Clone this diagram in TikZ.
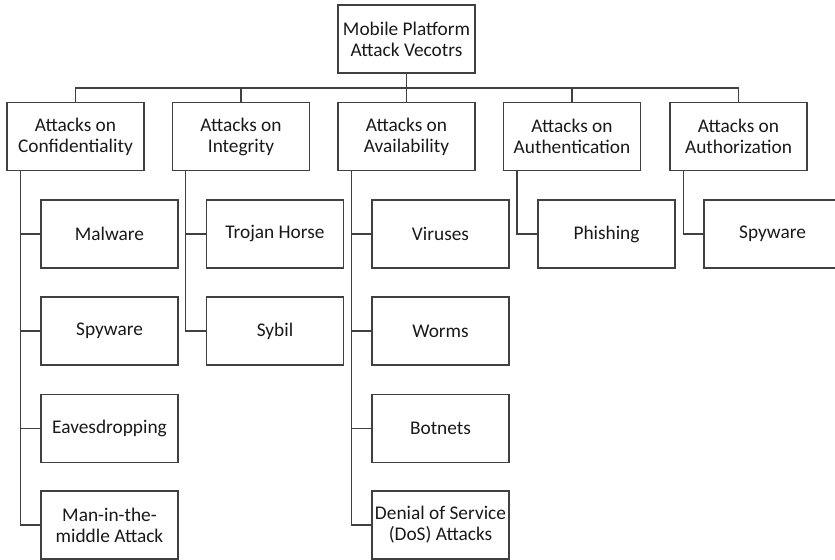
\documentclass[tikz,border=0pt]{standalone}
\usepackage{fontspec}
\setmainfont{Carlito}
\begin{document}
\begin{tikzpicture}[
        x=0.75pt, y=-0.75pt,
        box/.style={rectangle, draw=black!75, line width=1pt, text=black!90, minimum width=102.75pt, minimum height=51pt, align=center, inner sep=1pt, font=\fontsize{14.5}{15.75}\selectfont},
        link/.style={draw=black!75, line width=1pt}
    ]
        \useasboundingbox (0,0) rectangle (835,560);
        \node[box] (root) at (406.5,39) {Mobile Platform\\Attack Vecotrs};
        \coordinate (bus) at (406.5,88);

        \node[box] (conf) at (75.5,136.5) {Attacks on\\Confidentiality};
        \node[box] (integ) at (241,136.5) {Attacks on\\Integrity};
        \node[box] (avail) at (406.5,136.5) {Attacks on\\Availability};
        \node[box] (authn) at (572,136.5) {Attacks on\\Authentication};
        \node[box] (authz) at (738.5,136.5) {Attacks on\\Authorization};

        \node[box] (malware) at (109.5,234) {Malware};
        \node[box] (spyconf) at (109.5,331) {Spyware};
        \node[box] (eaves) at (109.5,428.5) {Eavesdropping};
        \node[box] (mitm) at (109.5,525) {Man-in-the-\\middle Attack};

        \node[box] (trojan) at (275,234) {Trojan Horse};
        \node[box] (sybil) at (275,331) {Sybil};

        \node[box] (viruses) at (440.5,234) {Viruses};
        \node[box] (worms) at (440.5,331) {Worms};
        \node[box] (botnets) at (440.5,428.5) {Botnets};
        \node[box] (dos) at (440.5,525) {Denial of Service\\(DoS) Attacks};

        \node[box] (phishing) at (606.5,234) {Phishing};
        \node[box] (spyauth) at (772.5,234) {Spyware};

        % root to categories
        \draw[link] (root) -- (bus);
        \draw[link] (bus) -| (conf);
        \draw[link] (bus) -| (integ);
        \draw[link] (bus) -| (avail);
        \draw[link] (bus) -| (authn);
        \draw[link] (bus) -| (authz);

        % categories to attacks
        \draw[link] ([xshift=10.5pt]conf.south west) |- (malware);
        \draw[link] ([xshift=10.5pt]conf.south west) |- (spyconf);
        \draw[link] ([xshift=10.5pt]conf.south west) |- (eaves);
        \draw[link] ([xshift=10.5pt]conf.south west) |- (mitm);
        \draw[link] ([xshift=10pt]integ.south west) |- (trojan);
        \draw[link] ([xshift=10pt]integ.south west) |- (sybil);
        \draw[link] ([xshift=10.5pt]avail.south west) |- (viruses);
        \draw[link] ([xshift=10.5pt]avail.south west) |- (worms);
        \draw[link] ([xshift=10.5pt]avail.south west) |- (botnets);
        \draw[link] ([xshift=10.5pt]avail.south west) |- (dos);
        \draw[link] ([xshift=10.5pt]authn.south west) |- (phishing);
        \draw[link] ([xshift=10.5pt]authz.south west) |- (spyauth);
    \end{tikzpicture}
\end{document}
